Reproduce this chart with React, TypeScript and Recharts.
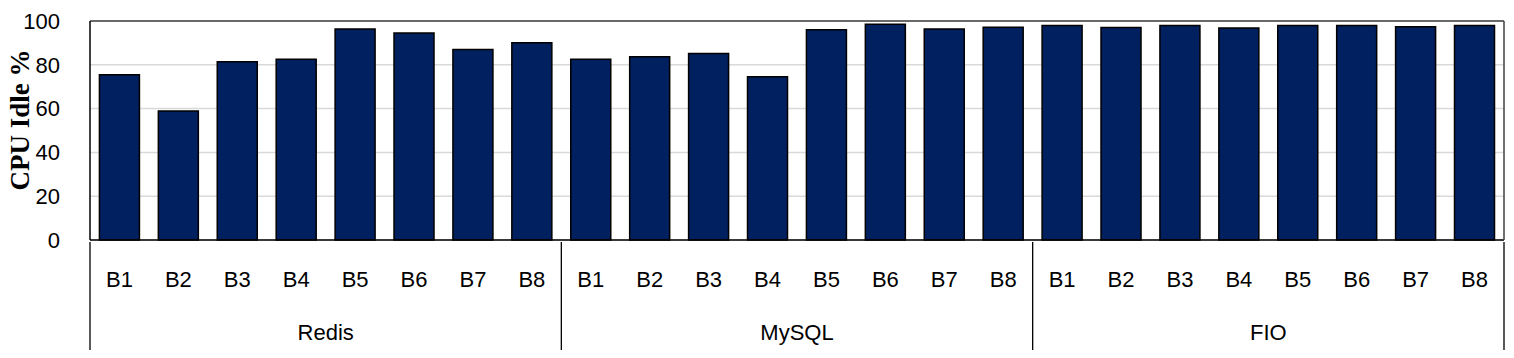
import React from 'react';
import { BarChart, Bar, XAxis, YAxis, CartesianGrid, ReferenceLine } from 'recharts';

const groups = ['Redis', 'MySQL', 'FIO'];
const benchmarks = ['B1', 'B2', 'B3', 'B4', 'B5', 'B6', 'B7', 'B8'];
const redisIdle = [75.4, 58.9, 81.4, 82.5, 96.3, 94.5, 87.0, 90.1];
const mysqlIdle = [82.5, 83.7, 85.2, 74.5, 96.0, 98.5, 96.3, 97.2];
const fioIdle = [98.0, 97.0, 98.0, 96.8, 97.9, 98.0, 97.4, 97.9];
const yTicks = [0, 20, 40, 60, 80, 100];

const seriesByGroup = [redisIdle, mysqlIdle, fioIdle];
const data = groups.flatMap((g, gi) =>
  benchmarks.map((b, bi) => ({ key: `${g}-${b}`, bench: b, group: g, idle: seriesByGroup[gi][bi] }))
);

const W = 1514;
const H = 358;
const LEFT = 90;
const RIGHT_W = 10;
const STEP = (W - LEFT - RIGHT_W) / data.length;
const FONT = '"Liberation Sans", Arial, sans-serif';

const XTick = (props: any) => {
  const { x, y, payload } = props;
  const index = payload.index;
  const row = data[index];
  const n = benchmarks.length;
  const els: React.ReactNode[] = [];
  els.push(
    <text key="b" x={x} y={y + 37} textAnchor="middle" dominantBaseline="central" fontSize={22} fontFamily={FONT} fill="#000">
      {row.bench}
    </text>
  );
  if (index % n === 0) {
    els.push(<line key="l" x1={x - STEP / 2} x2={x - STEP / 2} y1={y} y2={y + 108} stroke="#000" strokeWidth={1.3} />);
    els.push(
      <text key="g" x={x + STEP * (n / 2 - 0.5)} y={y + 90} textAnchor="middle" dominantBaseline="central" fontSize={22} fontFamily={FONT} fill="#000">
        {row.group}
      </text>
    );
  }
  if (index === data.length - 1) {
    els.push(<line key="r" x1={x + STEP / 2} x2={x + STEP / 2} y1={y} y2={y + 108} stroke="#000" strokeWidth={1.3} />);
  }
  return <g>{els}</g>;
};

const YLabel = () => (
  <text x={20} y={120} transform="rotate(-90 20 120)" textAnchor="middle" dominantBaseline="central" fontSize={27} fontWeight="bold" fontFamily='"Liberation Serif", "Times New Roman", serif' fill="#000">
    CPU Idle %
  </text>
);

export default function App() {
  return (
    <div style={{ position: 'absolute', left: 0, top: 0, background: '#fff' }}>
      <BarChart width={W} height={H} data={data} margin={{ top: 21, right: 0, left: 0, bottom: 0 }} barCategoryGap="16%">
        <CartesianGrid vertical={false} stroke="#d9d9d9" strokeWidth={1.5} />
        <XAxis dataKey="key" height={H - 240} interval={0} tickLine={false} tickSize={0} tick={<XTick />} axisLine={{ stroke: '#000', strokeWidth: 1.5 }} />
        <YAxis
          width={LEFT}
          domain={[0, 100]}
          ticks={yTicks}
          tickLine={false}
          tickSize={28}
          axisLine={{ stroke: '#000', strokeWidth: 1.5 }}
          tick={{ fontSize: 22, fill: '#000', fontFamily: FONT }}
          label={<YLabel />}
        />
        <YAxis yAxisId="right" orientation="right" width={RIGHT_W} domain={[0, 100]} tick={false} tickLine={false} axisLine={{ stroke: '#404040', strokeWidth: 1.5 }} />
        <ReferenceLine y={100} stroke="#404040" strokeWidth={1.5} />
        <Bar dataKey="idle" fill="#002060" stroke="#000" strokeWidth={1.5} isAnimationActive={false} />
      </BarChart>
    </div>
  );
}
